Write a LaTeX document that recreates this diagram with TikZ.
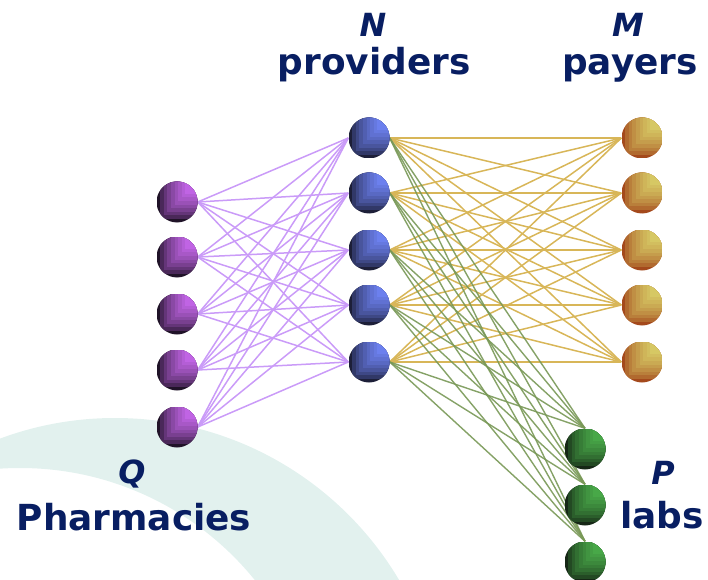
\documentclass[tikz,border=0pt]{standalone}
\usepackage{fontspec}
\setmainfont{DejaVu Sans}
\definecolor{navy}{RGB}{8,30,98}
\definecolor{ringcol}{RGB}{226,241,238}
\definecolor{phdark}{RGB}{18,12,24}
\definecolor{phlight}{RGB}{192,100,228}
\definecolor{prdark}{RGB}{22,22,40}
\definecolor{prlight}{RGB}{108,128,238}
\definecolor{padark}{RGB}{160,62,22}
\definecolor{palight}{RGB}{214,200,100}
\definecolor{ladark}{RGB}{18,28,18}
\definecolor{lalight}{RGB}{72,168,72}
\definecolor{phedge}{RGB}{202,155,248}
\definecolor{paedge}{RGB}{216,182,88}
\definecolor{laedge}{RGB}{120,152,86}
\pgfdeclarelayer{bg}
\pgfdeclarelayer{edges}
\pgfsetlayers{bg,edges,main}
\tikzset{
  sph/.style 2 args={circle, minimum size=41bp, inner sep=0pt, path picture={
    \foreach \k/\p in {0/8,1/32,2/47,3/59,4/69,5/78,6/86,7/93,8/100}{
      \fill[#2!\p!#1] ([xshift=\k*3.6bp,yshift=\k*3.6bp]path picture bounding box.south west) rectangle (path picture bounding box.north east);
    }}},
  phline/.style={draw=phedge, line width=1.5bp},
  paline/.style={draw=paedge, line width=1.5bp},
  laline/.style={draw=laedge, line width=1.4bp, opacity=0.9},
  lbl/.style={text=navy, anchor=base, inner sep=0pt, font=\fontsize{36}{40}\selectfont\bfseries},
  var/.style={text=navy, anchor=base, inner sep=0pt, font=\fontsize{32}{36}\selectfont\bfseries\itshape},
}
\begin{document}
\begin{tikzpicture}[x=1bp,y=-1bp]
\useasboundingbox (0,0) rectangle (708,580);
\begin{pgfonlayer}{bg}
  \clip (0,0) rectangle (708,580);
  \fill[ringcol, even odd rule] (115,748) circle[radius=330] (20,770) circle[radius=302];
\end{pgfonlayer}
% spheres
\foreach \i/\y in {1/202,2/257,3/314,4/370,5/427}
  \node[sph={phdark}{phlight}] (q\i) at (177,\y) {};
\foreach \i/\y in {1/138,2/193,3/250,4/305,5/362}
  \node[sph={prdark}{prlight}] (n\i) at (369,\y) {};
\foreach \i/\y in {1/138,2/193,3/250,4/305,5/362}
  \node[sph={padark}{palight}] (m\i) at (642,\y) {};
\foreach \i/\y in {1/449,2/505,3/562}
  \node[sph={ladark}{lalight}] (l\i) at (585,\y) {};
% connectors
\begin{pgfonlayer}{edges}
  \foreach \i in {1,...,5}
    \foreach \j in {1,...,5}
      \draw[phline] (q\i.east) -- (n\j.west);
  \foreach \i in {1,...,5}
    \foreach \j in {1,...,5}
      \draw[paline] (n\i.east) -- (m\j.west);
  \foreach \i in {1,...,5}
    \foreach \j in {1,2,3}
      \draw[laline] (n\i.east) -- (l\j.north);
\end{pgfonlayer}
% labels
\node[var] (tN) at (373,37) {N};
\node[lbl] (tprov) at (374,75) {providers};
\node[var] (tM) at (628,37) {M};
\node[lbl] (tpay) at (630,75) {payers};
\node[var] (tQ) at (132,483) {Q};
\node[lbl] (tpharm) at (134,530) {Pharmacies};
\node[var] (tP) at (663,484) {P};
\node[lbl] (tlabs) at (662,528) {labs};
\end{tikzpicture}
\end{document}
